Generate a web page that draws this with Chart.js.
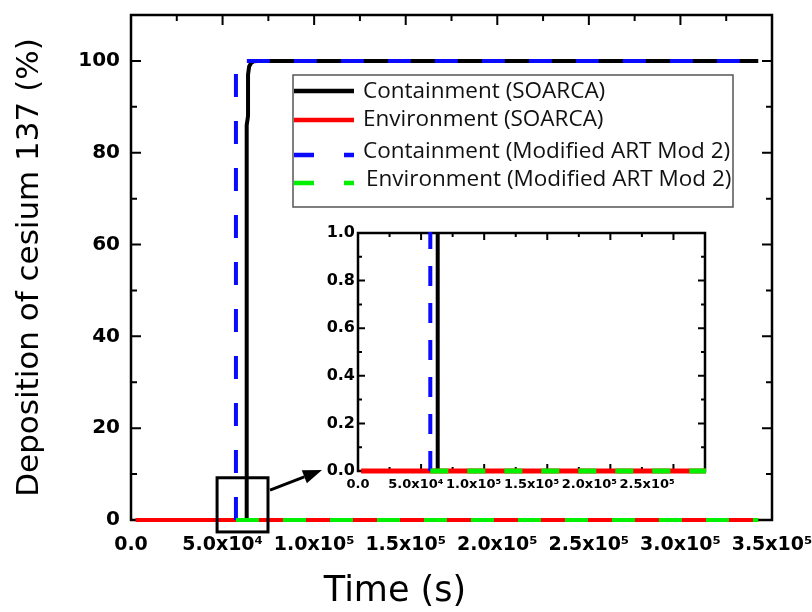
<!DOCTYPE html>
<html><head><meta charset="utf-8">
<script src="https://cdn.jsdelivr.net/npm/chart.js@4.4.0/dist/chart.umd.min.js"></script>
<style>
html,body{margin:0;padding:0;background:#fff;}
#wrap{position:relative;width:812px;height:612px;overflow:hidden;}
#main{position:absolute;left:0;top:0;}
#inset{position:absolute;left:300px;top:215px;}
</style></head><body>
<div id="wrap"><canvas id="main" width="812" height="612"></canvas><canvas id="inset" width="420" height="290"></canvas></div>
<script>
// ---- data (time in s, deposition in %) ----
const soarcaContTime = [63170, 63170, 63900, 63900, 64500, 65500, 67000, 69000, 342500];
const soarcaContPct  = [0, 86, 88, 97, 98.8, 99.5, 99.9, 100, 100];
const soarcaEnvTime  = [2500, 342500];
const soarcaEnvPct   = [0, 0];
const artContTime    = [57300, 57300, 342500];
const artContPct     = [0, 100, 100];
const artEnvTime     = [57300, 342500];
const artEnvPct      = [0, 0];

const seriesNames = ['Containment (SOARCA)', 'Environment (SOARCA)',
  'Containment (Modified ART Mod 2)', 'Environment (Modified ART Mod 2)'];
const seriesColors = ['#000000', '#ff0000', '#0a0aff', '#00f000'];

const mainXTickLabels  = ['0.0','5.0x10⁴','1.0x10⁵','1.5x10⁵','2.0x10⁵','2.5x10⁵','3.0x10⁵','3.5x10⁵'];
const mainYTickLabels  = ['0','20','40','60','80','100'];
const insetXTickLabels = ['0.0','5.0x10⁴','1.0x10⁵','1.5x10⁵','2.0x10⁵','2.5x10⁵'];
const insetYTickLabels = ['0.0','0.2','0.4','0.6','0.8','1.0'];

function pts(t, v) { return t.map((x, i) => ({x: x, y: v[i]})); }
function makeDatasets(widths, dashes, clip) {
  const sets = [[soarcaContTime, soarcaContPct], [soarcaEnvTime, soarcaEnvPct],
                [artContTime, artContPct], [artEnvTime, artEnvPct]];
  return sets.map((s, i) => ({
    label: seriesNames[i], data: pts(s[0], s[1]),
    borderColor: seriesColors[i], borderWidth: widths[i], borderDash: dashes[i],
    borderCapStyle: 'butt', borderJoinStyle: 'round',
    pointRadius: 0, fill: false, tension: 0, order: 4 - i, clip: clip
  }));
}

function frameTicks(cfg) {
  return {
    id: 'frameTicks',
    beforeDatasetsDraw(chart) {
      const {ctx, chartArea: a, scales: {x, y}} = chart;
      ctx.save();
      ctx.strokeStyle = '#000';
      ctx.lineCap = 'butt';
      ctx.lineWidth = cfg.tickWidth;
      ctx.beginPath();
      for (let v = x.min; v <= x.max + 1e-6; v += cfg.xStep / 2) {
        const major = Math.abs(v / cfg.xStep - Math.round(v / cfg.xStep)) < 1e-6;
        const len = major ? cfg.major : cfg.minor;
        const p = x.getPixelForValue(v);
        if (cfg.top) { ctx.moveTo(p, a.top); ctx.lineTo(p, a.top + len); }
        if (cfg.bottom) { ctx.moveTo(p, a.bottom); ctx.lineTo(p, a.bottom - len); }
      }
      for (let v = y.min; v <= y.max + 1e-6; v += cfg.yStep / 2) {
        const major = Math.abs(v / cfg.yStep - Math.round(v / cfg.yStep)) < 1e-6;
        const len = major ? cfg.major : cfg.minor;
        const p = y.getPixelForValue(v);
        ctx.moveTo(a.left, p); ctx.lineTo(a.left + len, p);
        ctx.moveTo(a.right, p); ctx.lineTo(a.right - len, p);
      }
      ctx.stroke();
      ctx.lineWidth = cfg.frame;
      ctx.strokeRect(a.left, a.top, a.right - a.left, a.bottom - a.top);
      ctx.restore();
    }
  };
}

// zoom box around the jump (data units) and arrow to the inset
const zoomBoxX = [47000, 74800];
const zoomBoxY = [-2.6, 9.2];
const arrowFrom = [75900, 6.5];
const arrowTo = [104300, 10.9];

const mainDecor = {
  id: 'mainDecor',
  afterDatasetsDraw(chart) {
    const {ctx, scales: {x, y}} = chart;
    ctx.save();
    ctx.strokeStyle = '#000'; ctx.fillStyle = '#000';
    ctx.lineWidth = 3;
    const bx0 = x.getPixelForValue(zoomBoxX[0]), bx1 = x.getPixelForValue(zoomBoxX[1]);
    const by0 = y.getPixelForValue(zoomBoxY[1]), by1 = y.getPixelForValue(zoomBoxY[0]);
    ctx.strokeRect(bx0, by0, bx1 - bx0, by1 - by0);
    const ax0 = x.getPixelForValue(arrowFrom[0]), ay0 = y.getPixelForValue(arrowFrom[1]);
    const ax1 = x.getPixelForValue(arrowTo[0]), ay1 = y.getPixelForValue(arrowTo[1]);
    const ang = Math.atan2(ay1 - ay0, ax1 - ax0);
    const hl = 19, hw = 7;
    const bx = ax1 - hl * Math.cos(ang), byy = ay1 - hl * Math.sin(ang);
    ctx.beginPath(); ctx.moveTo(ax0, ay0); ctx.lineTo(bx, byy); ctx.stroke();
    ctx.beginPath();
    ctx.moveTo(ax1, ay1);
    ctx.lineTo(bx + hw * Math.sin(ang), byy - hw * Math.cos(ang));
    ctx.lineTo(bx - hw * Math.sin(ang), byy + hw * Math.cos(ang));
    ctx.closePath(); ctx.fill();
    ctx.restore();
  },
  afterDraw(chart) {
    const ctx = chart.ctx;
    ctx.save();
    // x axis title
    ctx.fillStyle = '#000';
    ctx.font = '35px "DejaVu Sans"';
    ctx.textAlign = 'center'; ctx.textBaseline = 'alphabetic';
    ctx.fillText('Time (s)', 395, 601);
    // legend
    ctx.fillStyle = '#fff';
    ctx.fillRect(293, 75, 440, 132);
    ctx.strokeStyle = '#555'; ctx.lineWidth = 1.5;
    ctx.strokeRect(293, 75, 440, 132);
    const lineY = [91, 120, 155, 183];
    const textY = [92, 120, 152, 180];
    const textX = [363, 363, 363, 366];
    const dashes = [[], [], [20, 30], [20, 30]];
    for (let i = 0; i < 4; i++) {
      ctx.beginPath();
      ctx.setLineDash(dashes[i]);
      ctx.strokeStyle = seriesColors[i]; ctx.lineWidth = 4.5; ctx.lineCap = 'butt';
      ctx.moveTo(294, lineY[i]); ctx.lineTo(354, lineY[i]); ctx.stroke();
      ctx.setLineDash([]);
      ctx.fillStyle = '#111';
      ctx.font = '22.5px "Open Sans"';
      ctx.textAlign = 'left'; ctx.textBaseline = 'middle';
      ctx.fillText(seriesNames[i], textX[i], textY[i]);
    }
    ctx.restore();
  }
};

const tickFont = (s) => ({family: 'DejaVu Sans', weight: 'bold', size: s});

new Chart(document.getElementById('main'), {
  type: 'line',
  data: {datasets: makeDatasets([4, 4, 4, 4], [[], [], [23, 24], [23, 24]], 5)},
  options: {
    responsive: false, animation: false, devicePixelRatio: 1,
    layout: {padding: {top: 15, right: 40, left: 0, bottom: 0}},
    plugins: {legend: {display: false}, tooltip: {enabled: false}},
    scales: {
      x: {type: 'linear', min: 0, max: 350000,
        grid: {display: false, drawTicks: false}, border: {display: false},
        ticks: {stepSize: 50000, includeBounds: false, autoSkip: false, maxRotation: 0, minRotation: 0,
          padding: 14, color: '#000', font: tickFont(19),
          callback: (v, i) => mainXTickLabels[i]},
        afterFit(s) { s.height = 92; s.paddingLeft = 0; s.paddingRight = 0; }
      },
      y: {type: 'linear', min: 0, max: 110,
        grid: {display: false, drawTicks: false}, border: {display: false},
        ticks: {stepSize: 20, includeBounds: false, padding: 11, color: '#000', font: tickFont(20),
          callback: (v, i) => mainYTickLabels[i]},
        title: {display: true, text: 'Deposition of cesium 137 (%)', color: '#000',
          font: {family: 'DejaVu Sans', size: 31}, padding: {top: 11, bottom: 0}},
        afterFit(s) { s.width = 131; s.paddingTop = 0; s.paddingBottom = 0; }
      }
    }
  },
  plugins: [frameTicks({xStep: 50000, yStep: 20, major: 10, minor: 6, tickWidth: 2, frame: 2.5, top: true, bottom: false}), mainDecor]
});

new Chart(document.getElementById('inset'), {
  type: 'line',
  data: {datasets: makeDatasets([4, 5, 4, 5], [[], [], [20, 17], [18, 19]], {left: 3, top: 1, right: 1, bottom: 3})},
  options: {
    responsive: false, animation: false, devicePixelRatio: 1,
    layout: {padding: {top: 18, right: 15, left: 0, bottom: 0}},
    plugins: {legend: {display: false}, tooltip: {enabled: false}},
    scales: {
      x: {type: 'linear', min: 0, max: 275000,
        grid: {display: false, drawTicks: false}, border: {display: false},
        ticks: {stepSize: 50000, includeBounds: false, autoSkip: false, maxRotation: 0, minRotation: 0,
          padding: 6, color: '#000', font: tickFont(13),
          callback: (v, i) => insetXTickLabels[i]},
        afterFit(s) { s.height = 34; s.paddingLeft = 0; s.paddingRight = 0; }
      },
      y: {type: 'linear', min: 0, max: 1,
        grid: {display: false, drawTicks: false}, border: {display: false},
        ticks: {stepSize: 0.2, includeBounds: false, padding: 3, color: '#000', font: tickFont(16),
          callback: (v, i) => insetYTickLabels[i]},
        afterFit(s) { s.width = 58; s.paddingTop = 0; s.paddingBottom = 0; }
      }
    }
  },
  plugins: [frameTicks({xStep: 50000, yStep: 0.2, major: 7, minor: 4, tickWidth: 2, frame: 2.5, top: true, bottom: true})]
});
</script>
</body></html>
